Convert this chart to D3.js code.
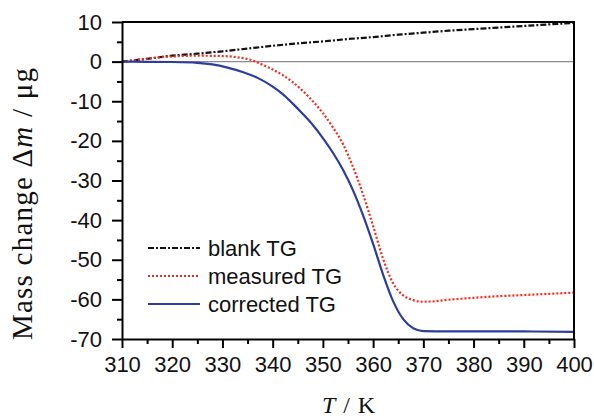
<!DOCTYPE html>
<html>
<head>
<meta charset="utf-8">
<script src="https://cdn.jsdelivr.net/npm/d3@7"></script>
<style>
  body { margin: 0; background: #fff; }
  svg { display: block; }
</style>
</head>
<body>
<svg id="chart" width="594" height="419"></svg>
<script>
// temperature grid (K) and mass change (ug)
const blankT = [310, 315, 320, 325, 330, 335, 340, 345, 350, 355, 360, 365, 370, 375, 380, 385, 390, 395, 400];
const blankV = [0, 0.7, 1.5, 2.0, 2.6, 3.3, 4.0, 4.6, 5.1, 5.7, 6.2, 6.8, 7.3, 7.8, 8.2, 8.6, 9.0, 9.4, 9.8];

const measT = [310, 313, 316, 320, 325, 330, 333, 336, 338, 340, 342, 344, 346, 348, 350, 352, 354, 356, 358, 360, 362, 364, 366, 368, 370, 372, 375, 380, 385, 390, 395, 400];
const measV = [0, 0.4, 0.9, 1.3, 1.5, 1.4, 1.1, 0.3, -0.8, -2.0, -3.4, -5.2, -7.4, -10.0, -13.0, -16.6, -20.8, -26.6, -33.5, -41.5, -49.8, -56.0, -59.0, -60.2, -60.6, -60.5, -60.1, -59.6, -59.2, -58.9, -58.6, -58.3];

const corrT = [310, 315, 320, 325, 328, 331, 334, 337, 340, 342, 344, 346, 348, 350, 352, 354, 356, 358, 360, 362, 364, 366, 368, 370, 375, 380, 390, 400];
const corrV = [0, -0.05, -0.1, -0.3, -0.7, -1.5, -2.6, -4.1, -6.3, -8.2, -10.6, -13.2, -16.0, -19.3, -23.0, -27.3, -32.5, -38.8, -46.0, -53.8, -60.5, -65.0, -67.3, -68.0, -68.1, -68.1, -68.1, -68.2];

const xTicks = [310, 320, 330, 340, 350, 360, 370, 380, 390, 400];
const yTicks = [10, 0, -10, -20, -30, -40, -50, -60, -70];
const legendNames = ["blank TG", "measured TG", "corrected TG"];

const svg = d3.select("#chart");
const m = {left: 122, right: 20, top: 22, bottom: 80};
const W = 594, H = 419;

const x = d3.scaleLinear().domain([310, 400]).range([m.left, W - m.right]);
const y = d3.scaleLinear().domain([-70, 10]).range([H - m.bottom, m.top]);

// zero reference line
svg.append("line")
  .attr("x1", x(310)).attr("x2", x(400))
  .attr("y1", y(0)).attr("y2", y(0))
  .attr("stroke", "#8c8c8c").attr("stroke-width", 1.2);

let series = [
  {t: blankT, v: blankV, color: "#111", dash: "6,2,2,2", width: 2.2},
  {t: measT, v: measV, color: "#f2281c", dash: "2,2", width: 2.2},
  {t: corrT, v: corrV, color: "#2c3d9c", dash: null, width: 2.2}
];

let line = d3.line()
  .x(d => x(d[0]))
  .y(d => y(d[1]))
  .curve(d3.curveMonotoneX);

series.forEach(s => {
  svg.append("path")
    .datum(s.t.map((t, i) => [t, s.v[i]]))
    .attr("fill", "none")
    .attr("stroke", s.color)
    .attr("stroke-width", s.width)
    .attr("stroke-dasharray", s.dash)
    .attr("d", line);
});

// axes: minor ticks first, then majors with labels
const tickFont = "'Liberation Sans', Arial, sans-serif";

svg.append("g")
  .attr("transform", `translate(0,${y(-70)})`)
  .call(d3.axisBottom(x).tickValues(d3.range(315, 400, 10)).tickSize(5).tickFormat(""))
  .call(g => g.select(".domain").remove())
  .selectAll("line").attr("stroke-width", 2);

svg.append("g")
  .attr("transform", `translate(${x(310)},0)`)
  .call(d3.axisLeft(y).tickValues(d3.range(-65, 10, 10)).tickSize(5).tickFormat(""))
  .call(g => g.select(".domain").remove())
  .selectAll("line").attr("stroke-width", 2);

let xAxis = svg.append("g")
  .attr("transform", `translate(0,${y(-70)})`)
  .call(d3.axisBottom(x).tickValues(xTicks).tickSize(9).tickPadding(8).tickSizeOuter(0).tickFormat(d => d));

let yAxis = svg.append("g")
  .attr("transform", `translate(${x(310)},0)`)
  .call(d3.axisLeft(y).tickValues(yTicks).tickSize(10).tickPadding(10).tickSizeOuter(0).tickFormat(d => d));

[xAxis, yAxis].forEach(g => {
  g.select(".domain").attr("stroke-width", 2);
  g.selectAll(".tick line").attr("stroke-width", 2);
  g.selectAll("text")
    .attr("font-family", tickFont)
    .attr("font-size", 22)
    .attr("fill", "#111");
});

// top and right frame
svg.append("path")
  .attr("d", `M${x(310)},${y(10)}H${x(400)}V${y(-70)}`)
  .attr("fill", "none").attr("stroke", "#000").attr("stroke-width", 2);

// axis titles
const serif = "'Liberation Serif', 'Times New Roman', serif";
let xt = svg.append("text")
  .attr("x", 322)
  .attr("y", 413)
  .attr("textLength", 53)
  .attr("lengthAdjust", "spacing")
  .attr("font-family", serif)
  .attr("font-size", 24)
  .attr("fill", "#111");
xt.append("tspan").attr("font-style", "italic").text("T");
xt.append("tspan").text(" / K");

let yt = svg.append("text")
  .attr("transform", "translate(32,340) rotate(-90)")
  .attr("textLength", 272)
  .attr("lengthAdjust", "spacing")
  .attr("font-family", serif)
  .attr("font-size", 29)
  .attr("fill", "#111");
yt.append("tspan").text("Mass change \u0394");
yt.append("tspan").attr("font-style", "italic").text("m");
yt.append("tspan").text(" / \u03bcg");

// legend
const legend = svg.append("g");
legendNames.forEach((name, i) => {
  let s = series[i];
  let ly = 248 + i * 28;
  legend.append("line")
    .attr("x1", 148).attr("x2", 200)
    .attr("y1", ly).attr("y2", ly)
    .attr("stroke", s.color)
    .attr("stroke-width", s.width)
    .attr("stroke-dasharray", s.dash);
  legend.append("text")
    .attr("x", 208).attr("y", ly)
    .attr("dy", "0.35em")
    .attr("font-family", tickFont)
    .attr("font-size", 22)
    .attr("fill", "#111")
    .text(name);
});
</script>
</body>
</html>
